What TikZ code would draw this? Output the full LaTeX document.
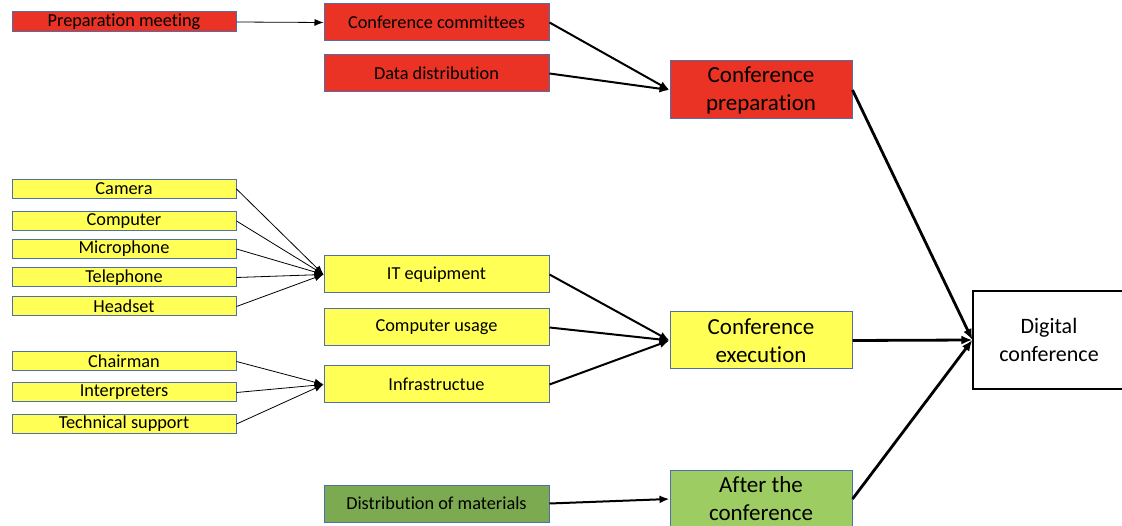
\documentclass[tikz,border=0pt]{standalone}
\usepackage{fontspec}
\setmainfont{Carlito}[Ligatures=NoCommon]
\usetikzlibrary{arrows.meta}
\definecolor{cred}{RGB}{234,51,37}
\definecolor{cyel}{RGB}{255,255,85}
\definecolor{cgrn}{RGB}{124,170,80}
\definecolor{clgrn}{RGB}{157,204,98}
\definecolor{cbord}{RGB}{80,110,170}
\begin{document}
\begin{tikzpicture}[x=1pt,y=-1pt,
  box/.style={draw=cbord, line width=1pt, inner sep=0pt, align=center},
  small/.style={box, minimum width=224pt, minimum height=19pt, font=\fontsize{18.3}{20}\selectfont},
  mid/.style={box, minimum width=225pt, minimum height=37pt, font=\fontsize{18.3}{20}\selectfont},
  big/.style={box, minimum width=182pt, minimum height=58pt, font=\fontsize{23}{28}\selectfont},
  thin/.style={line width=0.8pt, -{Latex[length=9pt,width=7pt]}},
  med/.style={line width=2pt, -{Latex[length=10pt,width=8pt]}},
  thick/.style={line width=2.8pt, -{Latex[length=11pt,width=9pt]}}
]
\clip (0,0) rectangle (1122,526);
\fill[white] (0,0) rectangle (1122,526);
% first column
\node[small, fill=cred, minimum height=20pt] (pm) at (124,22) {Preparation meeting};
\node[small, fill=cyel] (cam) at (124,189) {Camera};
\node[small, fill=cyel] (comp) at (124,221) {Computer};
\node[small, fill=cyel] (mic) at (124,249) {Microphone};
\node[small, fill=cyel] (tel) at (124,277.5) {Telephone};
\node[small, fill=cyel] (head) at (124,306.5) {Headset};
\node[small, fill=cyel] (chair) at (124,361.5) {Chairman};
\node[small, fill=cyel] (interp) at (124,392.5) {Interpreters};
\node[small, fill=cyel] (tech) at (124,424) {Technical support};
% second column
\node[mid, fill=cred] (cc) at (436.5,22.5) {Conference committees};
\node[mid, fill=cred] (dd) at (436.5,73.5) {Data distribution};
\node[mid, fill=cyel] (it) at (436.5,274.5) {IT equipment};
\node[mid, fill=cyel] (cu) at (436.5,327.5) {Computer usage};
\node[mid, fill=cyel] (inf) at (436.5,384.5) {Infrastructue};
\node[mid, fill=cgrn] (dm) at (436.5,503.5) {Distribution of materials};
% third column
\node[big, fill=cred] (cp) at (761,90) {Conference\\preparation};
\node[big, fill=cyel, minimum height=57pt] (ce) at (761,340.5) {Conference\\execution};
\node[big, fill=clgrn] (ac) at (761,499) {After the\\conference};
% final
\node[box, draw=black, line width=1.3pt, fill=white, minimum width=152pt, minimum height=98pt, font=\fontsize{22}{28}\selectfont] (dc) at (1049,340) {Digital\\conference};
% connectors
\draw[thin] (pm.east) -- (cc.west);
\draw[med] (cc.east) -- (cp.west);
\draw[med] (dd.east) -- (cp.west);
\foreach \n in {cam,comp,mic,tel,head} \draw[thin] (\n.east) -- (it.west);
\foreach \n in {chair,interp,tech} \draw[thin] (\n.east) -- (inf.west);
\draw[med] (it.east) -- (ce.west);
\draw[med] (cu.east) -- (ce.west);
\draw[med] (inf.east) -- (ce.west);
\draw[med] (dm.east) -- (ac.west);
\draw[thick] (cp.east) -- (dc.west);
\draw[thick] (ce.east) -- (dc.west);
\draw[thick] (ac.east) -- (dc.west);
\end{tikzpicture}
\end{document}
